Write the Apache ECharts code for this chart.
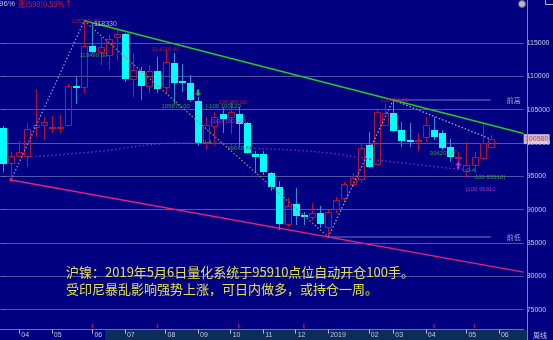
<!DOCTYPE html>
<html><head><meta charset="utf-8">
<script src="https://cdn.jsdelivr.net/npm/echarts@6/dist/echarts.min.js"></script>
<style>html,body{margin:0;padding:0;background:#000080;overflow:hidden}#c{width:553px;height:340px}</style>
</head><body><div id="c"></div>
<script>
// ---------------- data (weekly candles, index 0..60) ----------------
const opens = [102250, 97000, 98050, 98050, 102400, 102700, 102200, 102250, 102700, 108550,
  108400, 114550, 113650, 113200, 115900, 116350, 109600, 110800, 108550, 110800,
  108400, 112000, 109200, 109000, 106300, 100150, 102550, 104350, 103900, 104350,
  103000, 98350, 98350, 95500, 93400, 87850, 90850, 89200, 88900, 89500,
  87400, 90100, 91750, 93850, 94600, 99700, 96850, 102700, 104500, 101950,
  100450, 100200, 100900, 101950, 101500, 99400, 97700, 95800, 96700, 97750,
  99400];
const closes = [96850, 98050, 98650, 102100, 102700, 103150, 102250, 102300, 108550, 108250,
  114550, 113700, 114400, 115600, 116350, 109600, 110950, 108550, 110800, 108100,
  112150, 109000, 109100, 106450, 100000, 102700, 103900, 103600, 104650, 102850,
  98500, 97900, 95650, 93400, 87850, 90550, 89050, 88900, 89500, 87850,
  89650, 91450, 93850, 94750, 99250, 96400, 104650, 104500, 101800, 100300,
  100150, 100300, 102700, 100900, 99250, 97900, 97750, 96700, 97900, 100000,
  100580];
const lows = [95650, 94450, 97900, 96400, 100900, 100450, 101500, 101500, 102550, 105850,
  107500, 113490, 111700, 110950, 112450, 109150, 106900, 106450, 107500, 107500,
  107500, 105870, 107650, 106150, 99550, 98950, 99700, 101500, 101350, 99640,
  98400, 95500, 95200, 92800, 86950, 87400, 87700, 87700, 88450, 87250,
  85900, 89500, 91150, 93400, 94000, 96250, 96700, 102700, 101650, 99400,
  99400, 98800, 100150, 100450, 98950, 97150, 96850, 94750, 95500, 97750,
  99250];
const highs = [102550, 98650, 100300, 103000, 108100, 103900, 104050, 104200, 108850, 109900,
  118330, 118150, 115900, 116200, 116950, 116500, 113500, 111400, 111700, 112900,
  114010, 113500, 111850, 110200, 106900, 103900, 104650, 105250, 106080, 105400,
  103150, 98800, 98800, 95650, 94300, 91750, 93250, 89650, 91000, 90550,
  89950, 91900, 94150, 95500, 100000, 101650, 104950, 105900, 106450, 103150,
  103000, 101500, 103900, 103900, 101950, 100600, 98650, 100150, 98650, 103000,
  101200];

// month ticks on the time axis (week index -> label)
const monthTickIndex = [2, 6, 11, 15, 20, 24, 28, 32, 36, 40, 45, 48, 52, 57, 61];
const monthTickLabels = ['04', '05', '06', '07', '08', '09', '10', '11', '12', '2019', '02', '03', '04', '05', '06'];

// swing points (week index)
const lowIdxA = 1, peakIdxA = 10, lowIdxB = 40, peakIdxB = 48, lastIdx = 60;

// long moving average (dotted purple)
const maIndex = [3, 11, 22, 26, 31, 35, 40, 46, 57];
const maValue = [97900, 98650, 100000, 100000, 99200, 99000, 98500, 97450, 95950];

// red event markers along the bottom
const eventIndex = [11, 19, 29, 37, 53, 58];
const eventLevel = 72550;

// signals
const sellSignals = [[24, 107500]];
const buySignals = [[56, 96650]];

// price notes [weekIndex, price, text]
const redNotes = [[8.4, 118300, '118330.00'], [18.3, 114030, '114010.00'], [26.5, 106150, '106080.00'], [46.4, 106450, '106450.00']];
const whiteNotes = [[11.2, 117850, '118330']];
const greenNotes = [[9.4, 113200, '113490.00'], [19.5, 105550, '105870.00'], [24.9, 105550, '[-100 100120'],
  [24.6, 100150, '0-4'], [27.6, 99250, '99640.00'], [52.5, 98500, '99620.00'], [57.0, 95950, '0-4'], [57.8, 94900, '-100 95910]']];
const magentaNotes = [[25.6, 103300, '[100 100120]'], [56.9, 93100, '[100 95910']];

const headerLeft = '96%';
const headerChange = '涨(590)0.59%↑';
const noteLine1 = '沪镍：2019年5月6日量化系统于95910点位自动开仓100手。';
const noteLine2 = '受印尼暴乱影响强势上涨，可日内做多，或持仓一周。';
const periodLabel = '周线';

// ---------------- chart ----------------
const X_MIN = -0.3666, X_MAX = 64.035;
const BG = '#000080', UP = '#b0143c', DOWN_FILL = '#00ffff', DOWN_WICK = '#2a8ed6';

const candleData = opens.map((o, i) => [i, o, closes[i], lows[i], highs[i]]);

function seg(x1, y1, x2, y2, col) {
  return { type: 'line', shape: { x1: x1, y1: y1, x2: x2, y2: y2 }, style: { stroke: col, lineWidth: 1 } };
}
function renderCandle(params, api) {
  const i = api.value(0), o = api.value(1), c = api.value(2), lo = api.value(3), hi = api.value(4);
  const pO = api.coord([i, o]), pC = api.coord([i, c]), pL = api.coord([i, lo]), pH = api.coord([i, hi]);
  const X = Math.round(pO[0]);
  const bw = Math.round(api.size([1, 0])[0] * 0.74);
  const left = X - Math.floor(bw / 2);
  const wx = X + 0.5;
  const yTop = Math.round(Math.min(pO[1], pC[1])), yBot = Math.round(Math.max(pO[1], pC[1]));
  const up = c >= o;
  const ch = [];
  if (yBot - yTop < 2) {
    const col = up ? UP : DOWN_WICK;
    ch.push(seg(wx, pH[1], wx, pL[1], col));
    ch.push({ type: 'rect', shape: { x: left, y: yTop - 1, width: bw + 1, height: 2 }, style: { fill: up ? UP : DOWN_FILL } });
  } else if (up) {
    ch.push(seg(wx, pH[1], wx, yTop, UP));
    ch.push(seg(wx, yBot, wx, pL[1], UP));
    ch.push({ type: 'rect', shape: { x: left + 0.5, y: yTop + 0.5, width: bw, height: yBot - yTop }, style: { stroke: UP, fill: null, lineWidth: 1 } });
  } else {
    ch.push(seg(wx, pH[1], wx, pL[1], DOWN_WICK));
    ch.push({ type: 'rect', shape: { x: left, y: yTop, width: bw + 1, height: yBot - yTop }, style: { fill: DOWN_FILL } });
  }
  return { type: 'group', children: ch };
}

function lineAt(p1, p2, xEnd) {
  const slope = (p2[1] - p1[1]) / (p2[0] - p1[0]);
  return [p1, [xEnd, p2[1] + slope * (xEnd - p2[0])]];
}

const pLowA = [lowIdxA, lows[lowIdxA]], pPeakA = [peakIdxA, highs[peakIdxA]];
const pLowB = [lowIdxB, lows[lowIdxB]], pPeakB = [peakIdxB, highs[peakIdxB]];
const pLast = [lastIdx, closes[lastIdx]];

function dotted(data, color, z) {
  return { type: 'line', data: data, symbol: 'none', clip: false, z: z || 3, silent: true,
    lineStyle: { color: color, width: 1.3, type: [1.5, 2] } };
}
function notes(arr, color, size) {
  return { type: 'scatter', data: arr, symbolSize: 0, clip: false, z: 6, silent: true,
    label: { show: true, position: 'right', distance: 0, color: color, fontSize: size || 6,
      fontFamily: 'Liberation Sans', formatter: p => p.value[2] } };
}

const chart = echarts.init(document.getElementById('c'), null, { renderer: 'canvas' });
chart.setOption({
  backgroundColor: BG,
  animation: false,
  grid: { left: 0, right: 26, top: 9.667, bottom: 30.333 },
  xAxis: {
    type: 'value', min: X_MIN, max: X_MAX, offset: 20,
    splitLine: { show: false },
    axisLine: { show: true, lineStyle: { color: '#6e6eb8', width: 1 } },
    axisTick: { show: true, length: 4, customValues: monthTickIndex, lineStyle: { color: '#b8b8d8' } },
    axisLabel: { show: true, customValues: monthTickIndex, margin: 2, align: 'left', padding: [0, 0, 0, 2],
      color: '#c4c4dc', fontSize: 7, fontFamily: 'Liberation Sans',
      formatter: v => monthTickLabels[monthTickIndex.indexOf(Math.round(v))] || '' }
  },
  yAxis: {
    type: 'value', position: 'right', min: 75000, max: 120000, interval: 5000,
    axisLine: { show: false },
    axisTick: { show: true, length: 3, lineStyle: { color: '#6e6eb8' } },
    splitLine: { show: true, showMaxLine: false, lineStyle: { color: '#5252aa', width: 1 } },
    axisLabel: { showMaxLabel: false, margin: 3, color: '#c8c8dc', fontSize: 7, fontFamily: 'Liberation Sans',
      formatter: v => String(v) }
  },
  graphic: [
    { type: 'rect', z: -1, shape: { x: 105, y: 330, width: 422, height: 10 }, style: { fill: '#0c2c5a' } },
    { type: 'line', z: 10, shape: { x1: 527.5, y1: 0, x2: 527.5, y2: 340 }, style: { stroke: '#7c7cc0', lineWidth: 1 } },
    { type: 'text', z: 10, style: { x: 533, y: 335, text: periodLabel, fill: '#c8c8e0', font: '7px "Noto Sans CJK SC"', verticalAlign: 'middle' } },
    { type: 'text', z: 10, style: { x: -1, y: 4, text: headerLeft, fill: '#c0c0dc', font: '8px "Liberation Sans"', verticalAlign: 'middle' } },
    { type: 'text', z: 10, style: { x: 18, y: 4, text: headerChange, fill: '#d81c40', font: '7.5px "Noto Sans CJK SC"', verticalAlign: 'middle' } },
    { type: 'circle', z: 10, shape: { cx: 522, cy: 4, r: 3.5 }, style: { fill: '#b8b8c8', stroke: '#606070' } },
    { type: 'rect', z: 10, shape: { x: 545.5, y: -1, width: 8, height: 5.5 }, style: { fill: null, stroke: '#b8b8d0' } },
    { type: 'text', z: 10, style: { x: 66, y: 263.5, text: noteLine1 + '\n' + noteLine2, fill: '#e2e04a',
      font: '13px "Noto Sans CJK SC"', lineHeight: 17 } }
  ],
  series: [
    { type: 'custom', name: 'candles', renderItem: renderCandle, data: candleData, z: 2,
      encode: { x: 0, y: [1, 2, 3, 4] }, silent: true },
    // moving average (dotted purple)
    { type: 'line', data: maIndex.map((x, i) => [x, maValue[i]]), symbol: 'none', smooth: 0.4, z: 3, silent: true,
      lineStyle: { color: '#7424c4', width: 1.5, type: [1.5, 2.5] } },
    // zigzag dotted lines
    dotted([pLowA, pPeakA], '#8c8cdc'),
    dotted([pPeakA, pLowB], '#8a8a68'),
    dotted([pLowB, pPeakB], '#9c9ce2'),
    dotted([pPeakB, pLast], '#a2a2cc'),
    // trend lines
    { type: 'line', data: lineAt(pPeakA, pPeakB, X_MAX), symbol: 'none', clip: false, z: 4, silent: true,
      lineStyle: { color: '#22cc22', width: 1.5 } },
    { type: 'line', data: lineAt(pLowA, pLowB, X_MAX), clip: false, z: 4, silent: true,
      symbol: (v, p) => p.dataIndex === 0 ? 'rect' : 'none', symbolSize: 3, showSymbol: true,
      itemStyle: { color: '#e8207a' }, lineStyle: { color: '#e8207a', width: 1.5 } },
    // previous high / low horizontals
    { type: 'line', data: [pPeakB, [lastIdx, pPeakB[1]]], symbol: 'none', z: 3, silent: true,
      lineStyle: { color: '#6282bc', width: 1 },
      endLabel: { show: true, formatter: '前高', distance: 16, color: '#8ea2d2', fontSize: 7, fontFamily: 'Noto Sans CJK SC' } },
    { type: 'line', data: [pLowB, [lastIdx, pLowB[1]]], symbol: 'none', z: 3, silent: true,
      lineStyle: { color: '#6282bc', width: 1 },
      endLabel: { show: true, formatter: '前低', distance: 16, color: '#8ea2d2', fontSize: 7, fontFamily: 'Noto Sans CJK SC' } },
    // event markers
    { type: 'scatter', data: eventIndex.map(i => [i, eventLevel]), clip: false, symbol: 'rect', symbolSize: [1.5, 4.5], z: 5,
      itemStyle: { color: '#d0183c' }, silent: true },
    // signals
    { type: 'scatter', data: sellSignals, clip: false, z: 6, silent: true,
      symbol: 'path://M3,0 L7,0 L7,5 L10,5 L5,10 L0,5 L3,5 Z', symbolSize: [6, 7], itemStyle: { color: '#2ee02e' } },
    { type: 'scatter', data: buySignals, clip: false, z: 6, silent: true,
      symbol: 'path://M3,10 L7,10 L7,5 L10,5 L5,0 L0,5 L3,5 Z', symbolSize: [6, 7], itemStyle: { color: '#e83ce8' } },
    // notes
    notes(redNotes, '#cc1c40'),
    notes(whiteNotes, '#d8d8f0', 7),
    notes(greenNotes, '#3cb83c'),
    notes(magentaNotes, '#c83cd0'),
    // last price tag on the axis
    { type: 'scatter', data: [[X_MAX, closes[lastIdx]]], clip: false, z: 8, silent: true,
      symbol: 'rect', symbolSize: [26, 10], symbolOffset: [13, 0], itemStyle: { color: '#f4eef0' },
      label: { show: true, position: 'inside', formatter: String(closes[lastIdx]), color: '#e01818', fontSize: 7, fontFamily: 'Liberation Sans' } }
  ]
});
</script>
</body></html>
